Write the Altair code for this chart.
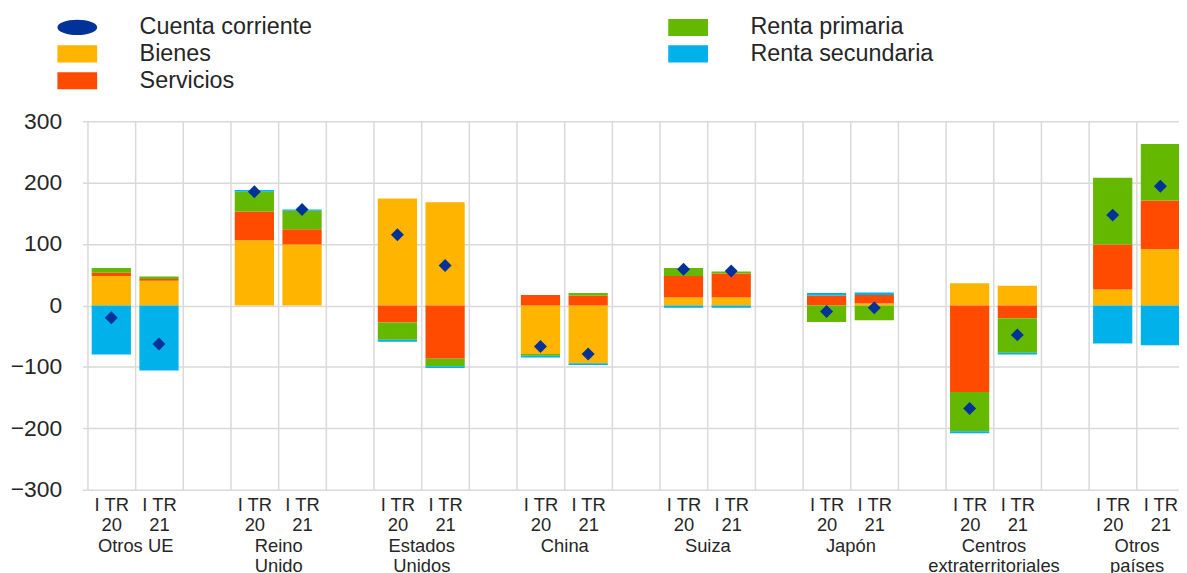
import json
import altair as alt
import pandas as pd

# ---------------- data ----------------
grupos = ["Otros UE", "Reino Unido", "Estados Unidos", "China", "Suiza",
          "Japón", "Centros extraterritoriales", "Otros países"]
grupo_lineas = [["Otros UE"], ["Reino", "Unido"], ["Estados", "Unidos"], ["China"],
                ["Suiza"], ["Japón"], ["Centros", "extraterritoriales"], ["Otros", "países"]]
periodos = ["I TR 20", "I TR 21"]
periodo_lineas = [["I TR", "20"], ["I TR", "21"]]

componentes = ["Bienes", "Servicios", "Renta primaria", "Renta secundaria"]
# order: (grupo0, 20), (grupo0, 21), (grupo1, 20), ...
bienes =           [48, 40, 106, 99, 174, 168, -79, -94, 13, 13, 0, 3, 36, 32, 26, 92]
servicios =        [5, 3, 47, 25, -28, -87, 17, 16, 35, 39, 16, 14, -141, -21, 73, 79]
renta_primaria =   [8, 4, 32, 30, -28, -12, -3, 4, 13, 3, -27, -24, -64, -56, 109, 92]
renta_secundaria = [-80, -106, 3, 2, -3, -3, -3, -3, -4, -4, 4, 4, -3, -3, -62, -65]
cuenta_corriente = [-20, -63, 185, 156, 115, 65, -67, -79, 59, 56, -10, -4, -168, -48, 147, 194]

orden_leyenda = ["Cuenta corriente", "Bienes", "Servicios", "Renta primaria", "Renta secundaria"]
colores = ["#003299", "#ffb400", "#ff4b00", "#65b800", "#00b1ea"]

rows = []
valores = [bienes, servicios, renta_primaria, renta_secundaria]
for gi, g in enumerate(grupos):
    for pi, p in enumerate(periodos):
        k = gi * 2 + pi
        for si, s in enumerate(componentes):
            rows.append({"grupo": g, "gi": gi, "pi": pi, "periodo": p,
                         "serie": s, "orden": si, "valor": valores[si][k]})
        rows.append({"grupo": g, "gi": gi, "pi": pi, "periodo": p,
                     "serie": "Cuenta corriente", "orden": 9, "valor": cuenta_corriente[k]})
df = pd.DataFrame(rows)

# ---------------- layout helpers ----------------
n_slots_visible = 22.786
grid_vals = list(range(0, 23))
center_vals = [3 * gi + pi + 0.5 for gi in range(len(grupos)) for pi in range(2)]
x_vals = sorted(grid_vals + center_vals)

label_expr = (
    f"datum.value % 1 !== 0 ? {json.dumps(periodo_lineas, ensure_ascii=False)}[floor(datum.value) % 3] : "
    f"((datum.value - 1) % 3 === 0 ? {json.dumps(grupo_lineas, ensure_ascii=False)}[(datum.value - 1) / 3] : '')"
)

FONT = "Liberation Sans"
TXT = "#262626"
GRID = "#d9d9d9"

X = alt.X(
    "pos:Q",
    scale=alt.Scale(domain=[0, n_slots_visible], nice=False, zero=False),
    axis=alt.Axis(
        values=x_vals, grid=True, gridColor=GRID, gridWidth=1.5,
        gridOpacity={"condition": {"test": "datum.value % 1 === 0", "value": 1}, "value": 0},
        ticks=False, domain=False, labelExpr=label_expr, labelFontSize=18.5,
        labelLineHeight=20.5,
        labelPadding={"condition": {"test": "datum.value % 1 === 0", "value": 47}, "value": 6},
        labelOverlap=False, labelFlush=False,
        labelBound=False, labelColor=TXT, labelFont=FONT, labelAngle=0, labelLimit=0,
        title=None,
    ),
)
yscale = alt.Scale(domain=[-300, 300], nice=False, zero=False)
yaxis = alt.Axis(
    values=[-300, -200, -100, 0, 100, 200, 300], grid=True, gridColor=GRID, gridWidth=1.5,
    ticks=False, domain=False, labelFontSize=23, labelPadding=21, labelColor=TXT,
    labelFont=FONT, title=None,
)

ellipse = "M-2,0A2,0.76,0,1,1,2,0A2,0.76,0,1,1,-2,0Z"
rect = "M-2,-0.86H2V0.86H-2Z"
legend = alt.Legend(
    orient="none", legendX=-17, legendY=-106.5, columns=2, columnPadding=357,
    rowPadding=2, symbolSize=400,
    symbolType={"expr": f"datum.value === 'Cuenta corriente' ? '{ellipse}' : '{rect}'"},
    labelFontSize=23.5, labelOffset=51, labelFont=FONT, labelColor=TXT, title=None,
    symbolStrokeWidth=0, symbolOpacity=1, padding=0, labelLimit=0,
)
color = alt.Color("serie:N", scale=alt.Scale(domain=orden_leyenda, range=colores), legend=legend)

base = alt.Chart(df).transform_calculate(pos="3 * datum.gi + datum.pi + 0.5")

bars = (
    base.transform_filter("datum.serie !== 'Cuenta corriente'")
    .transform_stack(stack="valor", groupby=["pos"], as_=["y0", "y1"],
                     sort=[alt.SortField("orden", order="ascending")], offset="zero")
    .mark_bar(size=39.5, clip=True)
    .encode(x=X, y=alt.Y("y0:Q", scale=yscale, axis=yaxis), y2="y1:Q", color=color)
)
points = (
    base.transform_filter("datum.serie === 'Cuenta corriente'")
    .mark_point(shape="diamond", filled=True, size=170, opacity=1, clip=True)
    .encode(x=X, y=alt.Y("valor:Q", scale=yscale, axis=yaxis), color=color)
)

chart = (
    alt.layer(bars, points)
    .properties(width=1104, height=371, autosize=alt.AutoSizeParams(type="none"),
                padding={"left": 75, "top": 112, "right": 0, "bottom": 82},
                background="white")
    .configure_view(stroke=None)
)
chart.save("out.html", embed_options={"renderer": "svg", "actions": False})
